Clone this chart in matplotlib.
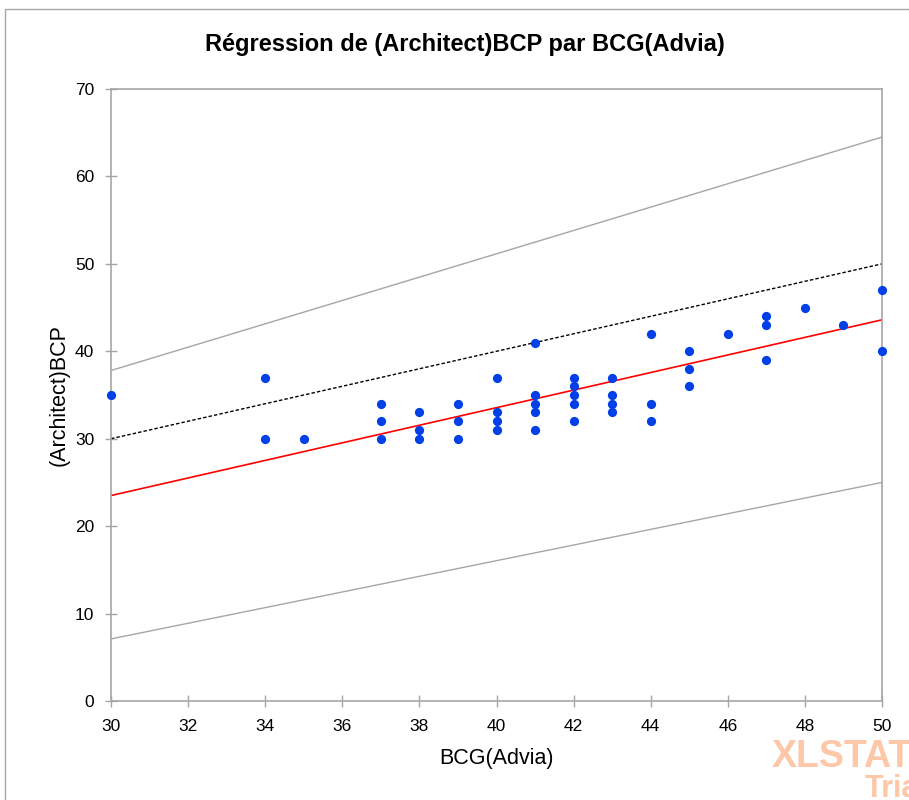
import matplotlib
matplotlib.use("Agg")
import matplotlib.pyplot as plt
from matplotlib.patches import Rectangle

plt.rcParams['font.family'] = ['Liberation Sans', 'DejaVu Sans']

# Data (BCG(Advia), (Architect)BCP)
bcg = [30, 34, 34, 35,
       37, 37, 37, 38, 38, 38, 39, 39, 39,
       40, 40, 40, 40,
       41, 41, 41, 41, 41,
       42, 42, 42, 42, 42,
       43, 43, 43, 43,
       44, 44, 44,
       45, 45, 45, 46, 47, 47, 47, 48, 49, 50, 50]
bcp = [35, 37, 30, 30,
       34, 32, 30, 33, 31, 30, 34, 32, 30,
       37, 33, 32, 31,
       41, 35, 34, 33, 31,
       37, 36, 35, 34, 32,
       37, 35, 34, 33,
       42, 34, 32,
       40, 38, 36, 42, 44, 43, 39, 45, 43, 47, 40]

# Lines (x endpoints and y values)
line_x = [30, 50]
reg_y = [23.5, 43.6]
upper_y = [37.8, 64.5]
lower_y = [7.1, 25.0]
ident_y = [30, 50]

x_ticks = list(range(30, 51, 2))
y_ticks = list(range(0, 71, 10))

fig = plt.figure(figsize=(9.09, 8.0), dpi=100)
W, H = 909, 800
ax = fig.add_axes([111 / W, 1 - 701 / H, (882 - 111) / W, (701 - 89) / H])

# outer chart border
fig.patches.append(Rectangle((5 / W, -0.1), 1.2, 1 - 9 / H + 0.1, transform=fig.transFigure,
                             fill=False, edgecolor='#a6a6a6', linewidth=1.0))

ax.plot(line_x, upper_y, color='#a6a6a6', lw=1.0)
ax.plot(line_x, lower_y, color='#a6a6a6', lw=1.0)
ax.plot(line_x, ident_y, color='black', lw=1.0, linestyle=(0, (2.5, 1.5)))
ax.plot(line_x, reg_y, color='#ff0000', lw=1.2)
ax.scatter(bcg, bcp, s=44, color='#0040e6', zorder=5, clip_on=False, linewidths=0)

ax.set_xlim(30, 50)
ax.set_ylim(0, 70)
ax.set_xticks(x_ticks)
ax.set_yticks(y_ticks)
for s in ax.spines.values():
    s.set_color('#a6a6a6')
    s.set_linewidth(1.2)
ax.tick_params(axis='both', direction='inout', length=8, color='#a6a6a6', width=1.0,
               labelsize=12.5, labelcolor='black')
ax.tick_params(axis='x', pad=9)
ax.tick_params(axis='y', pad=8)

ax.set_xlabel('BCG(Advia)', fontsize=15.5, labelpad=10)
ax.set_ylabel('(Architect)BCP', fontsize=15.5, labelpad=4)
fig.text(465 / W, 1 - 44 / H, 'Régression de (Architect)BCP par BCG(Advia)',
         ha='center', va='center', fontsize=17, fontweight='bold')

fig.text(772 / W, 1 - 767 / H, 'XLSTAT', fontsize=27, fontweight='bold', color='#fdc7a8',
         ha='left', va='baseline')
fig.text(865 / W, 1 - 797 / H, 'Trial', fontsize=22, fontweight='bold', color='#fdc7a8',
         ha='left', va='baseline')

fig.savefig('out.png', dpi=100)
